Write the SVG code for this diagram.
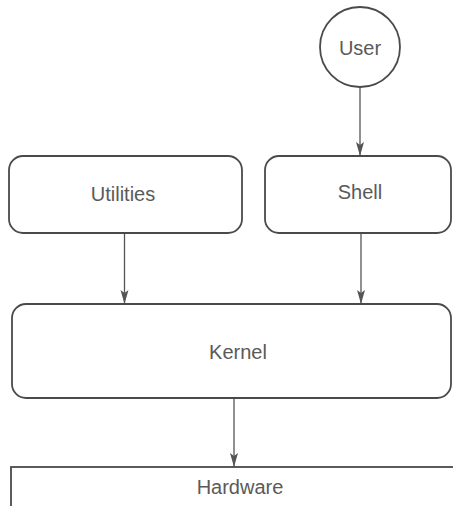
<svg xmlns="http://www.w3.org/2000/svg" width="453" height="506" viewBox="0 0 453 506">
  <style>
    .box { fill: #ffffff; stroke: #4a4a4a; stroke-width: 1.8; }
    .link { fill: none; stroke: #555555; stroke-width: 1.3; }
    .label { font-family: "Liberation Sans", Arial, sans-serif; font-size: 20px; fill: #5a5a5a; text-anchor: middle; }
  </style>
  <defs>
    <marker id="arrow" markerWidth="14" markerHeight="10" refX="14" refY="5" orient="auto" markerUnits="userSpaceOnUse">
      <path d="M0,1 L14,5 L0,9 L3,5 Z" fill="#555555"/>
    </marker>
  </defs>
  <rect width="453" height="506" fill="#ffffff"/>

  <g id="connectors">
    <line class="link" x1="360" y1="87" x2="360" y2="156" marker-end="url(#arrow)"/>
    <line class="link" x1="124.5" y1="233" x2="124.5" y2="304" marker-end="url(#arrow)"/>
    <line class="link" x1="361" y1="233" x2="361" y2="304" marker-end="url(#arrow)"/>
    <line class="link" x1="234" y1="398" x2="234" y2="467" marker-end="url(#arrow)"/>
  </g>

  <g id="user">
    <circle class="box" cx="360" cy="47" r="40"/>
    <text class="label" x="360" y="55">User</text>
  </g>

  <g id="utilities">
    <rect class="box" x="9" y="156" width="233" height="77" rx="14" ry="14"/>
    <text class="label" x="123" y="201">Utilities</text>
  </g>

  <g id="shell">
    <rect class="box" x="265" y="156" width="186" height="77" rx="14" ry="14"/>
    <text class="label" x="360" y="199">Shell</text>
  </g>

  <g id="kernel">
    <rect class="box" x="12" y="304" width="439" height="94" rx="14" ry="14"/>
    <text class="label" x="238" y="359">Kernel</text>
  </g>

  <g id="hardware">
    <rect class="box" x="11" y="467" width="460" height="60"/>
    <text class="label" x="240" y="494">Hardware</text>
  </g>
</svg>
